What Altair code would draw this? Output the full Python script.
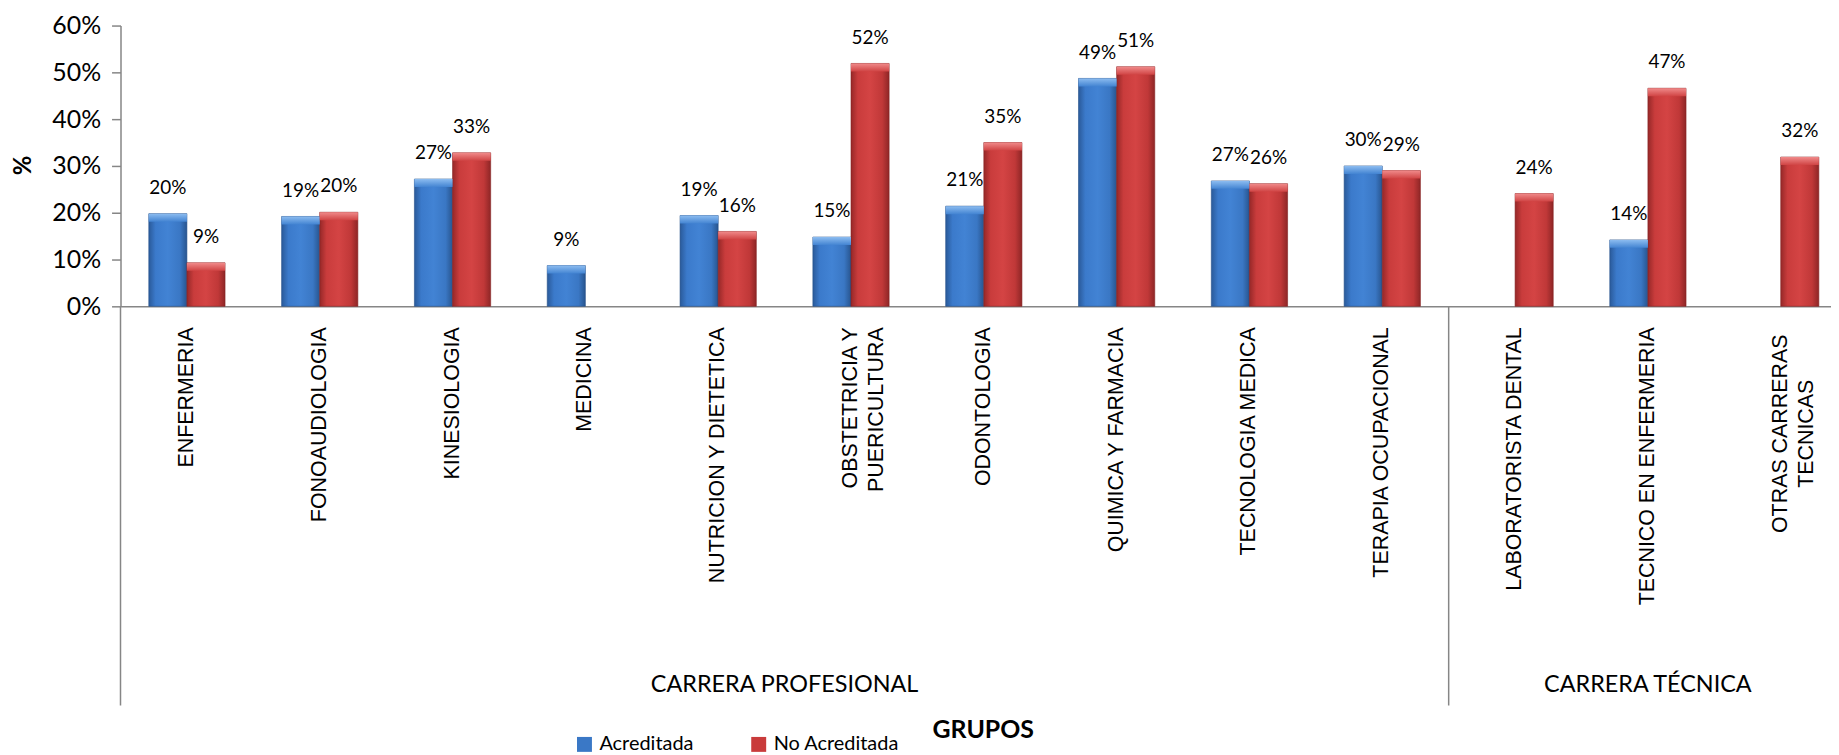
import altair as alt
import pandas as pd

# ---------------- data ----------------
categories = [
    "ENFERMERIA", "FONOAUDIOLOGIA", "KINESIOLOGIA", "MEDICINA",
    "NUTRICION Y DIETETICA", "OBSTETRICIA Y\nPUERICULTURA", "ODONTOLOGIA",
    "QUIMICA Y FARMACIA", "TECNOLOGIA MEDICA", "TERAPIA OCUPACIONAL",
    "LABORATORISTA DENTAL", "TECNICO EN ENFERMERIA", "OTRAS CARRERAS\nTECNICAS",
]
groups = ["CARRERA PROFESIONAL"] * 10 + ["CARRERA TÉCNICA"] * 3
series = ["Acreditada", "No Acreditada"]
acreditada = [19.8, 19.2, 27.2, 8.7, 19.4, 14.8, 21.4, 48.7, 26.8, 30.0, None, 14.2, None]
no_acreditada = [9.3, 20.1, 32.8, None, 16.0, 51.9, 35.0, 51.2, 26.2, 29.0, 24.1, 46.6, 31.9]
y_ticks = [0, 10, 20, 30, 40, 50, 60]

# ---------------- tables ----------------
rows = []
for i, cat in enumerate(categories):
    for s_i, (s, vals) in enumerate(zip(series, [acreditada, no_acreditada])):
        v = vals[i]
        if v is not None:
            rows.append({"idx": i, "categoria": cat, "serie": s, "sidx": s_i, "valor": v})
bars = pd.DataFrame(rows)
cats = pd.DataFrame({"idx": range(len(categories)), "categoria": categories, "grupo": groups})
cats["one_line"] = [("\n" not in c) or c.startswith("OBSTETRICIA") for c in categories]

grp_names = list(dict.fromkeys(groups))
starts, ends = [], []
for g in grp_names:
    ii = [i for i, gg in enumerate(groups) if gg == g]
    starts.append(min(ii)); ends.append(max(ii) + 1)
grps = pd.DataFrame({"grupo": grp_names, "start": starts, "end": ends})
seps = pd.DataFrame({"b": sorted(set(starts + ends))})

# ---------------- layout / style ----------------
BAND_PX = 133.4
PLOT_W = 1718
PLOT_H = 282
BW = 38.3 / BAND_PX          # bar width in band units
CAP = 1.7                    # height of the light bevel cap, in value units
GRAY = "#868686"
BLUE = "#3a78c6"
RED = "#c93b3b"

xscale = alt.Scale(domain=[0, PLOT_W / BAND_PX], nice=False, zero=False)
yscale = alt.Scale(domain=[0, 60], nice=False)


def hgrad(c0, c1, c2, c3, c4):
    return alt.Gradient(
        gradient="linear", x1=0, x2=1, y1=0, y2=0,
        stops=[alt.GradientStop(color=c0, offset=0),
               alt.GradientStop(color=c1, offset=0.18),
               alt.GradientStop(color=c2, offset=0.5),
               alt.GradientStop(color=c3, offset=0.82),
               alt.GradientStop(color=c4, offset=1)])


def vgrad(c0, c1):
    return alt.Gradient(
        gradient="linear", x1=0, x2=0, y1=0, y2=1,
        stops=[alt.GradientStop(color=c0, offset=0),
               alt.GradientStop(color=c1, offset=1)])


grad_blue = hgrad("#2a5a9a", "#3b7acb", "#4283d4", "#3a77c4", "#28558f")
grad_red = hgrad("#962828", "#c93c3c", "#d44444", "#c03838", "#8e2626")
cap_blue = vgrad("#8cbcf0", "#4384d2")
cap_red = vgrad("#f08a8a", "#d04444")

x_axis = alt.Axis(labels=False, ticks=False, grid=False, domainColor=GRAY, domainWidth=1.5,
                  title="GRUPOS", titleFont="Lato", titleFontSize=25, titleFontWeight="bold",
                  titleColor="#000", titleX=866, titleY=425, titleAlign="center",
                  titleBaseline="middle", titleAngle=0)
y_axis = alt.Axis(values=y_ticks, labelExpr="datum.value + '%'", grid=False,
                  domainColor=GRAY, domainWidth=1.5, tickColor=GRAY, tickSize=9, tickWidth=1.5,
                  labelFont="Lato", labelFontSize=25, labelColor="#000", labelPadding=11,
                  title="%", titleFont="Lato", titleFontSize=24, titleFontWeight="bold",
                  titleColor="#000", titleX=-97, titleY=140, titleAngle=270,
                  titleAlign="center", titleBaseline="middle")


def X(field):
    return alt.X(field, scale=xscale, axis=x_axis)


def Y(field):
    return alt.Y(field, scale=yscale, axis=y_axis)


base = alt.Chart(bars).transform_calculate(
    x0=f"datum.idx + 0.5 + (datum.sidx - 1) * {BW}",
    x1=f"datum.idx + 0.5 + datum.sidx * {BW}",
    xc=f"datum.idx + 0.5 + (datum.sidx - 0.5) * {BW}",
    zero="0",
    capb=f"max(datum.valor - {CAP}, 0)",
    lab="round(datum.valor) + '%'",
)

blue_base = base.transform_filter(alt.datum.serie == series[0])
red_base = base.transform_filter(alt.datum.serie == series[1])

bars_blue = blue_base.mark_bar(color=grad_blue, stroke="#244f88", strokeWidth=0.6).encode(
    x=X("x0:Q"), x2="x1:Q", y=Y("valor:Q"), y2="zero:Q")
bars_red = red_base.mark_bar(color=grad_red, stroke="#852222", strokeWidth=0.6).encode(
    x=X("x0:Q"), x2="x1:Q", y=Y("valor:Q"), y2="zero:Q")
caps_blue = blue_base.mark_bar(color=cap_blue).encode(
    x=X("x0:Q"), x2="x1:Q", y=Y("valor:Q"), y2="capb:Q")
caps_red = red_base.mark_bar(color=cap_red).encode(
    x=X("x0:Q"), x2="x1:Q", y=Y("valor:Q"), y2="capb:Q")

val_labels = base.mark_text(font="Lato", fontSize=19, color="#000", baseline="alphabetic",
                            align="center", dy=-20).encode(
    x=X("xc:Q"), y=Y("valor:Q"), text="lab:N")

legend_layer = base.mark_square(opacity=0, size=0).encode(
    x=X("xc:Q"), y=Y("valor:Q"),
    fill=alt.Fill("serie:N", scale=alt.Scale(domain=series, range=[BLUE, RED]),
                  legend=alt.Legend(title=None, orient="none", direction="horizontal",
                                    legendX=456, legendY=712, symbolType="square",
                                    symbolSize=225, symbolOpacity=1, symbolStrokeWidth=0,
                                    labelFont="Lato", labelFontSize=20, labelColor="#000",
                                    labelOffset=5, columnPadding=55)),
)

cat_base = alt.Chart(cats).transform_calculate(xc="datum.idx + 0.5")
cat_labels_a = cat_base.transform_filter("datum.one_line").mark_text(
    font="Liberation Sans", fontSize=21.5, color="#000", angle=270, align="right",
    baseline="middle", lineBreak="\n", lineHeight=26).encode(
    x=X("xc:Q"), y=alt.value(303), text="categoria:N")
cat_labels_b = cat_base.transform_filter("!datum.one_line").mark_text(
    font="Liberation Sans", fontSize=21.5, color="#000", angle=270, align="center",
    baseline="middle", lineBreak="\n", lineHeight=26).encode(
    x=X("xc:Q"), y=alt.value(410), text="categoria:N")

grp_labels = alt.Chart(grps).transform_calculate(gc="(datum.start + datum.end) / 2").mark_text(
    font="Lato", fontSize=23.5, color="#000", align="center", baseline="middle").encode(
    x=X("gc:Q"), y=alt.value(662), text="grupo:N")

sep_rules = alt.Chart(seps).mark_rule(color=GRAY, strokeWidth=1.5).encode(
    x=X("b:Q"), y=alt.value(PLOT_H), y2=alt.value(683))

chart = alt.layer(
    sep_rules, bars_blue, bars_red, caps_blue, caps_red, val_labels, legend_layer,
    cat_labels_a, cat_labels_b, grp_labels,
).properties(
    width=PLOT_W, height=PLOT_H,
    background="white",
    autosize=alt.AutoSizeParams(type="none"),
    padding={"left": 113, "top": 16, "right": 0, "bottom": 447},
).configure_view(stroke=None)

chart.save("out.html", embed_options={"renderer": "svg", "actions": False})
